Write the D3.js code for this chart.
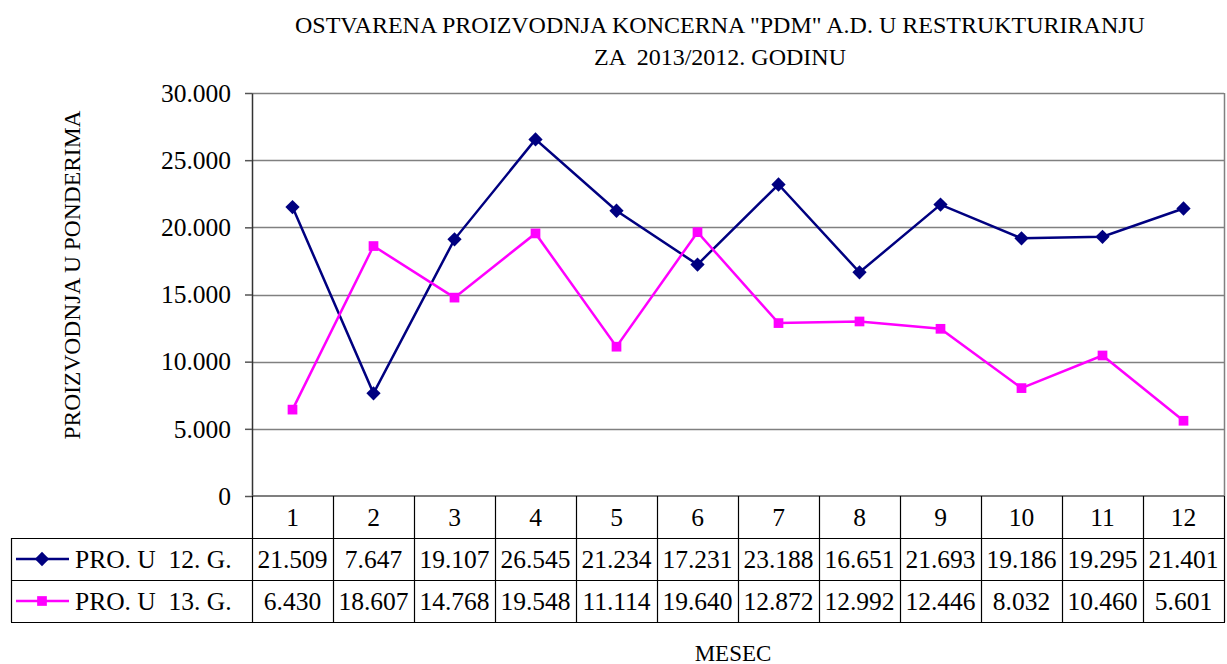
<!DOCTYPE html>
<html>
<head>
<meta charset="utf-8">
<script src="https://cdn.jsdelivr.net/npm/d3@7"></script>
<style>
  body { margin: 0; background: #fff; }
  text { font-family: "Liberation Serif", "Times New Roman", serif; fill: #000; }
</style>
</head>
<body>
<div class="chart-container"></div>
<script>
// chart data
const months = ['1', '2', '3', '4', '5', '6', '7', '8', '9', '10', '11', '12'];
const prod12 = [21509, 7647, 19107, 26545, 21234, 17231, 23188, 16651, 21693, 19186, 19295, 21401];
const prod13 = [6430, 18607, 14768, 19548, 11114, 19640, 12872, 12992, 12446, 8032, 10460, 5601];
const seriesNames = ['PRO. U  12. G.', 'PRO. U  13. G.'];
const yTicks = [0, 5000, 10000, 15000, 20000, 25000, 30000];

const series = [
    { name: seriesNames[0], values: prod12, color: '#000080', symbol: d3.symbolDiamond2, size: 130 },
    { name: seriesNames[1], values: prod13, color: '#ff00ff', symbol: d3.symbolSquare2, size: 120 }
];

// number format with dot as thousands separator
const fmt = d3.formatLocale({ decimal: ',', thousands: '.', grouping: [3], currency: ['', ''] }).format(',.0f');

const width = 1227;
const height = 664;
const plot = { left: 252, right: 1224, top: 93, bottom: 496 };
const rowH = 42;
const tableLeft = 11;
const bigFont = 25.5;

const xScale = d3.scaleBand()
    .domain(months)
    .range([plot.left, plot.right]);

const yScale = d3.scaleLinear()
    .domain([0, 30000])
    .range([plot.bottom, plot.top]);

const svg = d3.select('.chart-container')
    .append('svg')
    .attr('width', width)
    .attr('height', height);

// title
const title = svg.append('text')
    .attr('text-anchor', 'middle')
    .attr('font-size', 24)
    .attr('xml:space', 'preserve');
title.append('tspan').attr('x', 720).attr('y', 33)
    .text('OSTVARENA PROIZVODNJA KONCERNA "PDM" A.D. U RESTRUKTURIRANJU');
title.append('tspan').attr('x', 720).attr('y', 65)
    .text('ZA  2013/2012. GODINU');

// gridlines
svg.append('g')
    .selectAll('line')
    .data(yTicks.filter(d => d > 0))
    .join('line')
    .attr('x1', plot.left)
    .attr('x2', plot.right)
    .attr('y1', d => Math.round(yScale(d)) + 0.5)
    .attr('y2', d => Math.round(yScale(d)) + 0.5)
    .attr('stroke', '#808080')
    .attr('stroke-width', 1.5);

// plot border (right side)
svg.append('line')
    .attr('x1', plot.right + 0.5).attr('x2', plot.right + 0.5)
    .attr('y1', plot.top).attr('y2', plot.bottom)
    .attr('stroke', '#808080').attr('stroke-width', 1.5);

// y axis
const yAxis = d3.axisLeft(yScale)
    .tickValues(yTicks)
    .tickFormat(fmt)
    .tickSizeInner(7)
    .tickSizeOuter(0)
    .tickPadding(14);

const yAxisDraw = svg.append('g')
    .attr('transform', `translate(${plot.left}, 0)`)
    .call(yAxis);
yAxisDraw.select('.domain').attr('stroke', '#333').attr('stroke-width', 1.5);
yAxisDraw.selectAll('.tick line').attr('stroke', '#555').attr('stroke-width', 1.5);
yAxisDraw.selectAll('.tick text')
    .attr('font-size', bigFont)
    .attr('font-family', '"Liberation Serif", serif')
    .attr('fill', '#000');

// x axis line (bottom of plot)
svg.append('line')
    .attr('x1', plot.left).attr('x2', plot.right)
    .attr('y1', plot.bottom).attr('y2', plot.bottom)
    .attr('stroke', '#555').attr('stroke-width', 1.5);

// y label
svg.append('text')
    .attr('transform', 'translate(80, 275) rotate(-90)')
    .attr('text-anchor', 'middle')
    .attr('font-size', 23.5)
    .text('PROIZVODNJA U PONDERIMA');

// x label
svg.append('text')
    .attr('x', 733)
    .attr('y', 661)
    .attr('text-anchor', 'middle')
    .attr('font-size', 23)
    .text('MESEC');

// lines and markers
const line = d3.line()
    .x((d, i) => xScale(months[i]) + xScale.bandwidth() / 2)
    .y(d => yScale(d));

series.forEach(s => {
    svg.append('path')
        .datum(s.values)
        .attr('d', line)
        .attr('fill', 'none')
        .attr('stroke', s.color)
        .attr('stroke-width', 2.5);

    svg.append('g')
        .selectAll('path')
        .data(s.values)
        .join('path')
        .attr('transform', (d, i) => `translate(${xScale(months[i]) + xScale.bandwidth() / 2}, ${yScale(d)})`)
        .attr('d', d3.symbol(s.symbol, s.size))
        .attr('fill', s.color);
});

// data table
const table = svg.append('g').attr('class', 'data-table');
const tableBottom = plot.bottom + rowH * 3;

// horizontal lines
[plot.bottom + rowH, plot.bottom + rowH * 2, tableBottom].forEach(y => {
    table.append('line')
        .attr('x1', tableLeft).attr('x2', plot.right + 1)
        .attr('y1', y + 0.5).attr('y2', y + 0.5)
        .attr('stroke', '#000').attr('stroke-width', 1.2);
});

// vertical lines
const colEdges = months.map(m => xScale(m)).concat([plot.right]);
colEdges.forEach(x => {
    table.append('line')
        .attr('x1', Math.round(x) + 0.5).attr('x2', Math.round(x) + 0.5)
        .attr('y1', plot.bottom).attr('y2', tableBottom)
        .attr('stroke', '#000').attr('stroke-width', 1.2);
});
table.append('line')
    .attr('x1', tableLeft + 0.5).attr('x2', tableLeft + 0.5)
    .attr('y1', plot.bottom + rowH).attr('y2', tableBottom)
    .attr('stroke', '#000').attr('stroke-width', 1.2);

// category labels
table.selectAll('.cat')
    .data(months)
    .join('text')
    .attr('class', 'cat')
    .attr('x', d => xScale(d) + xScale.bandwidth() / 2)
    .attr('y', plot.bottom + rowH / 2 + 9)
    .attr('text-anchor', 'middle')
    .attr('font-size', bigFont)
    .text(d => d);

// series rows
series.forEach((s, r) => {
    const rowMid = plot.bottom + rowH * (r + 1) + rowH / 2;

    table.append('line')
        .attr('x1', 16).attr('x2', 69)
        .attr('y1', rowMid).attr('y2', rowMid)
        .attr('stroke', s.color).attr('stroke-width', 2.5);
    table.append('path')
        .attr('transform', `translate(42, ${rowMid})`)
        .attr('d', d3.symbol(s.symbol, s.size))
        .attr('fill', s.color);
    table.append('text')
        .attr('x', 75)
        .attr('y', rowMid + 9)
        .attr('font-size', bigFont)
        .attr('xml:space', 'preserve')
        .text(s.name);

    table.append('g')
        .selectAll('text')
        .data(s.values)
        .join('text')
        .attr('x', (d, i) => xScale(months[i]) + xScale.bandwidth() / 2)
        .attr('y', rowMid + 9)
        .attr('text-anchor', 'middle')
        .attr('font-size', bigFont)
        .text(d => fmt(d));
});
</script>
</body>
</html>
